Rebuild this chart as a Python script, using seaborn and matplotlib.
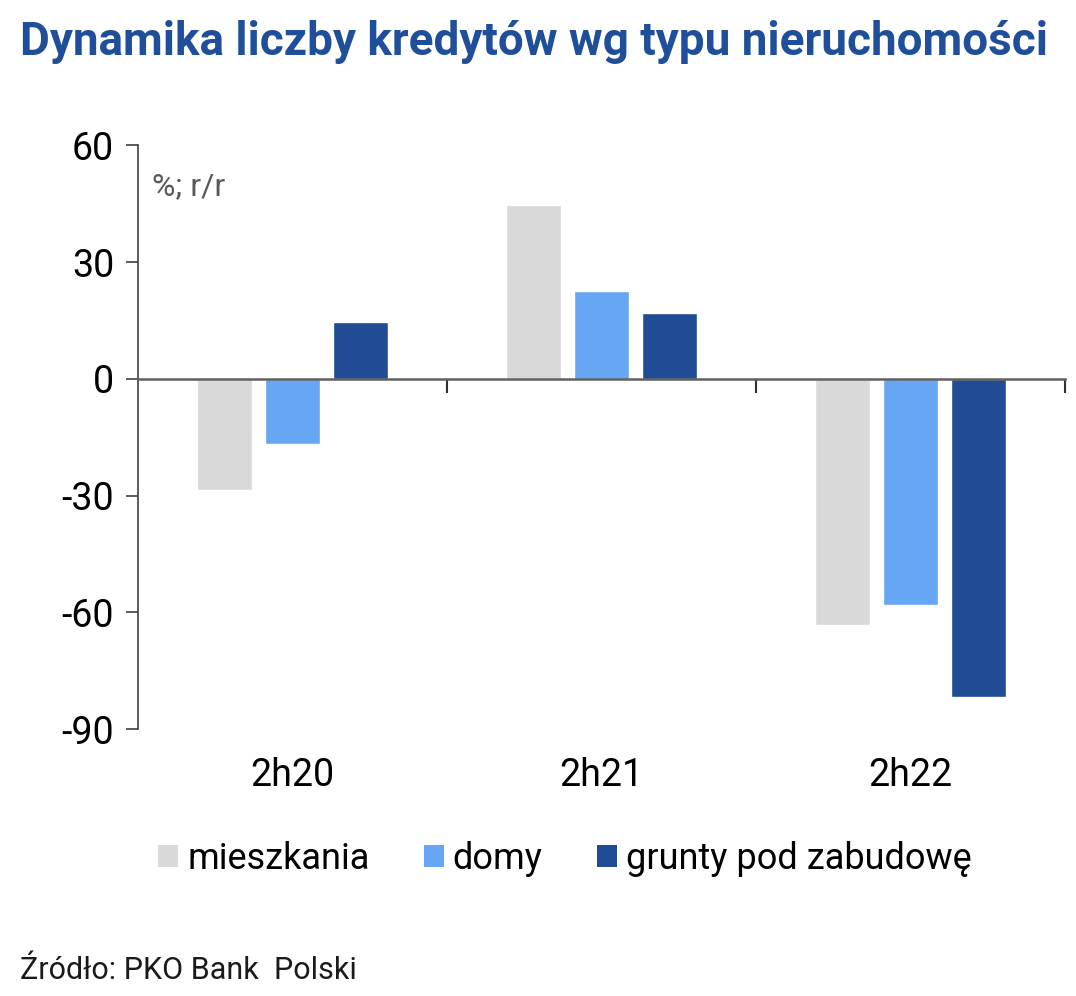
import matplotlib
matplotlib.use("Agg")
import matplotlib.pyplot as plt
import matplotlib.transforms as mtransforms
from matplotlib.patches import Patch
import seaborn as sns
import pandas as pd

periods = ["2h20", "2h21", "2h22"]
series = ["mieszkania", "domy", "grunty pod zabudowę"]
mieszkania = [-28.5, 44.6, -63.3]
domy = [-16.7, 22.6, -58.2]
grunty = [14.6, 16.9, -81.8]
colors = ["#D9D9D9", "#66A6F2", "#1F4C94"]
yticks = [-90, -60, -30, 0, 30, 60]

rows = []
for name, vals in zip(series, [mieszkania, domy, grunty]):
    for p, v in zip(periods, vals):
        rows.append({"okres": p, "typ": name, "wartosc": v})
df = pd.DataFrame(rows)

sns.set_style("white")
FONT = ["Roboto", "DejaVu Sans"]
plt.rcParams["font.family"] = FONT

fig = plt.figure(figsize=(10.76, 9.96), dpi=100)
ax = fig.add_axes([0.128, 0.268, 0.862, 0.586])

sns.barplot(data=df, x="okres", y="wartosc", hue="typ", order=periods,
            hue_order=series, palette=colors, width=0.66, gap=0.2,
            saturation=1, ax=ax, legend=False)

ax.set_xlim(-0.5, 2.5)
ax.set_ylim(-90, 60)
ax.set_yticks(yticks)
ax.set_yticklabels([str(t) for t in yticks], fontsize=27, color="black")
ax.tick_params(axis="y", left=True, length=9, width=1.2, color="#404040", pad=8)
ax.set_xlabel("")
ax.set_ylabel("")

for s in ["top", "right"]:
    ax.spines[s].set_visible(False)
ax.spines["left"].set_color("#404040")
ax.spines["left"].set_linewidth(1.2)
ax.spines["bottom"].set_position(("data", 0))
ax.spines["bottom"].set_color("#606060")
ax.spines["bottom"].set_linewidth(1.8)
ax.set_xticks([0.5, 1.5, 2.5])
ax.set_xticklabels([])
ax.tick_params(axis="x", bottom=True, length=10, width=1.5, color="#303030",
               direction="out")

trans = mtransforms.blended_transform_factory(ax.transData, ax.transAxes)
for i, p in enumerate(periods):
    ax.text(i, -0.08, p, transform=trans, ha="center", va="center",
            fontsize=27, color="black")

ax.text(0.015, 0.93, "%; r/r", transform=ax.transAxes, fontsize=23,
        color="#595959", ha="left", va="center")

handles = [Patch(facecolor=c, edgecolor="none") for c in colors]
fig.legend(handles, series, loc="center", bbox_to_anchor=(0.525, 0.138),
           ncol=3, frameon=False, fontsize=26, handlelength=0.55,
           handleheight=0.55, handletextpad=0.25, columnspacing=1.5,
           labelcolor="black")

fig.text(0.019, 0.958, "Dynamika liczby kredytów wg typu nieruchomości",
         fontsize=33, fontweight="bold", color="#1F4E9A", ha="left", va="center")
fig.text(0.019, 0.026, "Źródło: PKO Bank  Polski", fontsize=22,
         color="#1a1a1a", ha="left", va="center")

fig.savefig("out.png", dpi=100)
